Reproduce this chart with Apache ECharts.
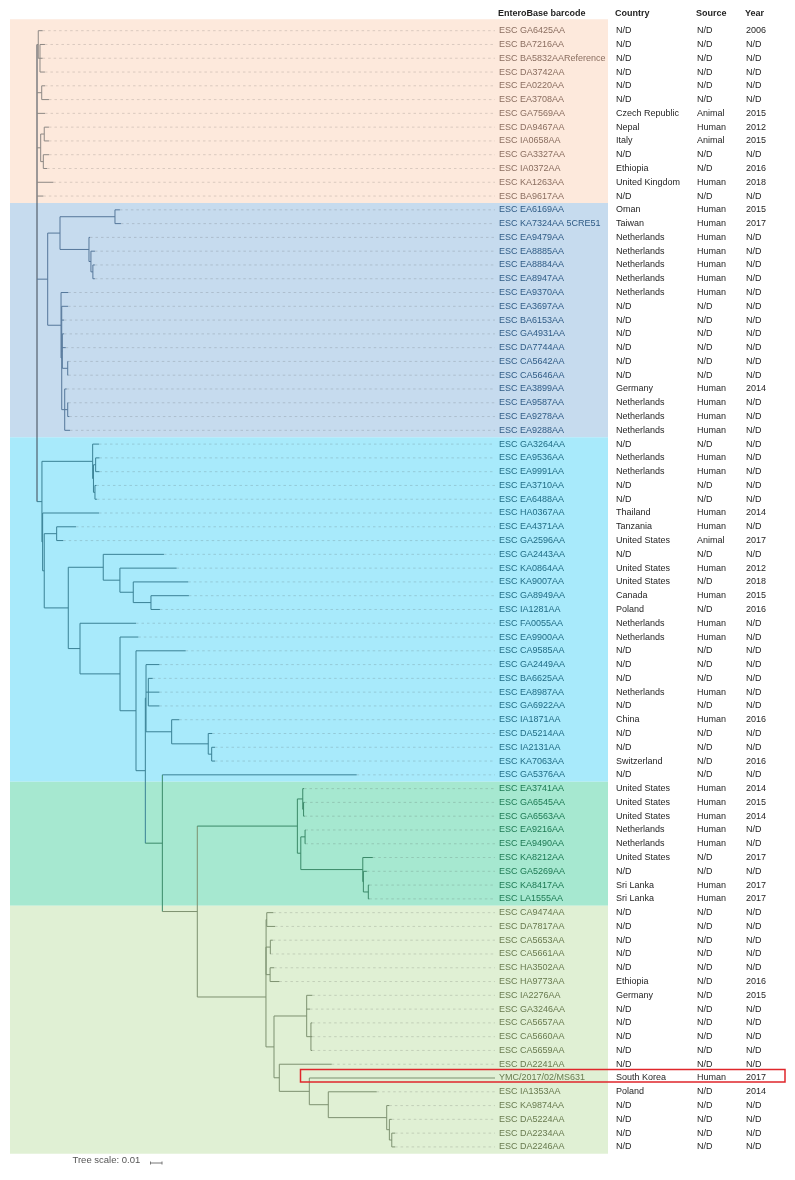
<!DOCTYPE html>
<html>
<head>
<meta charset="utf-8">
<script src="https://cdn.jsdelivr.net/npm/echarts@6/dist/echarts.min.js"></script>
<style>
html,body{margin:0;padding:0;background:#fff;}
#c{width:795px;height:1180px;}
</style>
</head>
<body>
<div id="c"></div>
<script>
// ---------------- DATA ----------------
const barcodes = [
 "ESC GA6425AA","ESC BA7216AA","ESC BA5832AAReference","ESC DA3742AA","ESC EA0220AA","ESC EA3708AA",
 "ESC GA7569AA","ESC DA9467AA","ESC IA0658AA","ESC GA3327AA","ESC IA0372AA","ESC KA1263AA","ESC BA9617AA",
 "ESC EA6169AA","ESC KA7324AA 5CRE51","ESC EA9479AA","ESC EA8885AA","ESC EA8884AA","ESC EA8947AA",
 "ESC EA9370AA","ESC EA3697AA","ESC BA6153AA","ESC GA4931AA","ESC DA7744AA","ESC CA5642AA","ESC CA5646AA",
 "ESC EA3899AA","ESC EA9587AA","ESC EA9278AA","ESC EA9288AA",
 "ESC GA3264AA","ESC EA9536AA","ESC EA9991AA","ESC EA3710AA","ESC EA6488AA","ESC HA0367AA","ESC EA4371AA",
 "ESC GA2596AA","ESC GA2443AA","ESC KA0864AA","ESC KA9007AA","ESC GA8949AA","ESC IA1281AA","ESC FA0055AA",
 "ESC EA9900AA","ESC CA9585AA","ESC GA2449AA","ESC BA6625AA","ESC EA8987AA","ESC GA6922AA","ESC IA1871AA",
 "ESC DA5214AA","ESC IA2131AA","ESC KA7063AA","ESC GA5376AA",
 "ESC EA3741AA","ESC GA6545AA","ESC GA6563AA","ESC EA9216AA","ESC EA9490AA","ESC KA8212AA","ESC GA5269AA",
 "ESC KA8417AA","ESC LA1555AA",
 "ESC CA9474AA","ESC DA7817AA","ESC CA5653AA","ESC CA5661AA","ESC HA3502AA","ESC HA9773AA","ESC IA2276AA",
 "ESC GA3246AA","ESC CA5657AA","ESC CA5660AA","ESC CA5659AA","ESC DA2241AA","YMC/2017/02/MS631",
 "ESC IA1353AA","ESC KA9874AA","ESC DA5224AA","ESC DA2234AA","ESC DA2246AA"
];
const countries = [
 "N/D","N/D","N/D","N/D","N/D","N/D","Czech Republic","Nepal","Italy","N/D","Ethiopia","United Kingdom","N/D",
 "Oman","Taiwan","Netherlands","Netherlands","Netherlands","Netherlands","Netherlands","N/D","N/D","N/D","N/D",
 "N/D","N/D","Germany","Netherlands","Netherlands","Netherlands",
 "N/D","Netherlands","Netherlands","N/D","N/D","Thailand","Tanzania","United States","N/D","United States",
 "United States","Canada","Poland","Netherlands","Netherlands","N/D","N/D","N/D","Netherlands","N/D","China",
 "N/D","N/D","Switzerland","N/D",
 "United States","United States","United States","Netherlands","Netherlands","United States","N/D","Sri Lanka","Sri Lanka",
 "N/D","N/D","N/D","N/D","N/D","Ethiopia","Germany","N/D","N/D","N/D","N/D","N/D","South Korea","Poland",
 "N/D","N/D","N/D","N/D"
];
const sources = [
 "N/D","N/D","N/D","N/D","N/D","N/D","Animal","Human","Animal","N/D","N/D","Human","N/D",
 "Human","Human","Human","Human","Human","Human","Human","N/D","N/D","N/D","N/D","N/D","N/D","Human","Human","Human","Human",
 "N/D","Human","Human","N/D","N/D","Human","Human","Animal","N/D","Human","N/D","Human","N/D","Human","Human",
 "N/D","N/D","N/D","Human","N/D","Human","N/D","N/D","N/D","N/D",
 "Human","Human","Human","Human","Human","N/D","N/D","Human","Human",
 "N/D","N/D","N/D","N/D","N/D","N/D","N/D","N/D","N/D","N/D","N/D","N/D","Human","N/D","N/D","N/D","N/D","N/D"
];
const years = [
 "2006","N/D","N/D","N/D","N/D","N/D","2015","2012","2015","N/D","2016","2018","N/D",
 "2015","2017","N/D","N/D","N/D","N/D","N/D","N/D","N/D","N/D","N/D","N/D","N/D","2014","N/D","N/D","N/D",
 "N/D","N/D","N/D","N/D","N/D","2014","N/D","2017","N/D","2012","2018","2015","2016","N/D","N/D","N/D","N/D",
 "N/D","N/D","N/D","2016","N/D","N/D","2016","N/D",
 "2014","2015","2014","N/D","N/D","2017","N/D","2017","2017",
 "N/D","N/D","N/D","N/D","N/D","2016","2015","N/D","N/D","N/D","N/D","N/D","2017","2014","N/D","N/D","N/D","N/D"
];
const headers = ["EnteroBase barcode","Country","Source","Year"];
const highlightRow = 76;
const scaleValue = 0.01;

// clade background bands (first / last row)
const cladeStart = [0, 13, 30, 55, 64];
const cladeEnd   = [12, 29, 54, 63, 81];

// tree (Newick, leaf names = row index, branch lengths in substitutions/site)
const treeOrange = "(0:0.0038,(1:0.0043,2:0.0023,3:0.0043):0.0015):0.0011,(4:0.0029,5:0.0063):0.0041,6:0.0070," +
 "((7:0.0041,8:0.0041):0.0031,(9:0.0050,10:0.0032):0.0023):0.0032,11:0.0142,12:0.0055";
const treeBlue = "(((13:0.0043,14:0.0052):0.0478,(15:0.0009,(16:0.0035,(17:0.0017,18:0.0017):0.0017):0.0017):0.0252):0.0107," +
 "(19:0.0063,(20:0.0055,21:0.0020,(22:0.0015,23:0.0030,(24:0.0005,25:0.0005):0.0047):0.0005," +
 "(26:0.0017,(27:0.0005,28:0.0014):0.0026,29:0.0046):0.0026):0.0006):0.0116):0.0093";
const treeGreen = "((55:0.0011,(56:0.0009,57:0.0009):0.0007):0.0047,((58:0.0004,59:0.0004):0.0037," +
 "(60:0.0087,(61:0.0030,(62:0.0009,63:0.0009):0.0043):0.0005):0.0539):0.0030):0.0870";
const treeLightGreen = "(((64:0.0057,65:0.0072):0.0006,(66:0.0021,67:0.0003):0.0037,(68:0.0035,69:0.0081):0.0035):0.0001," +
 "((70:0.0049,71:0.0029,(72:0.0011,73:0.0011,74:0.0011):0.0037):0.0284," +
 "(75:0.0456,(76:0.0032,(77:0.0421,(78:0.0023,(79:0.0021,(80:0.0029,81:0.0029):0.0021):0.0023):0.0508):0.0165):0.0261):0.0046):0.0070):0.0597";
const treeCyan = "((30:0.0055,((31:0.0033,32:0.0033):0.0019,(33:0.0013,34:0.0017):0.0013):0.0007):0.0441," +
 "(35:0.0490,((36:0.0168,37:0.0057):0.0108," +
 "((38:0.0528,(39:0.0493,(40:0.0478,(41:0.0330,42:0.0078):0.0154):0.0116):0.0145):0.0304," +
 "(43:0.0487,(44:0.0159,(45:0.0432," +
 "((46:0.0116,(47:0.0038,48:0.0096,49:0.0096):0.0020,(50:0.0066,(51:0.0035,(52:0.0029,53:0.0029):0.0030):0.0318):0.0223):0.0006," +
 "(54:0.1690,(" + treeGreen + "," + treeLightGreen + "):0.0304):0.0148):0.0081" +
 "):0.0139):0.0348):0.0102):0.0209):0.0014):0.0006):0.0043";
const treeNewick = "(" + treeOrange + "," + treeBlue + "," + treeCyan + ");";

// ---------------- STYLE ----------------
const bandFill = ['#fde9dc', '#c6dbee', '#a8eafb', '#a6e8d0', '#e0f0d4'];
const bandInk  = ['#8a6e60', '#2f5b85', '#216d86', '#1d7953', '#687a4f'];
const bandLine = ['#8d8884', '#55779a', '#3a8195', '#3a8968', '#7d9170'];
const FONT = '"Liberation Sans", Arial, sans-serif';

// ---------------- TREE LAYOUT ----------------
function parseNewick(str) {
  const s = str.replace(/\s+/g, '');
  let i = 0;
  function node() {
    const n = { children: [] };
    if (s[i] === '(') {
      i++;
      n.children.push(node());
      while (s[i] === ',') { i++; n.children.push(node()); }
      i++;
    }
    let name = '';
    while (i < s.length && ',():;'.indexOf(s[i]) < 0) name += s[i++];
    n.name = name;
    n.len = 0;
    if (s[i] === ':') {
      i++;
      let num = '';
      while (i < s.length && ',();'.indexOf(s[i]) < 0) num += s[i++];
      n.len = parseFloat(num);
    }
    return n;
  }
  return node();
}
const root = parseNewick(treeNewick);
function layout(n, depth) {
  n.x = depth + n.len;
  if (n.children.length) {
    n.children.forEach(c => layout(c, n.x));
    n.y = (n.children[0].y + n.children[n.children.length - 1].y) / 2;
  } else {
    n.y = +n.name;
  }
}
layout(root, 0);
function bandOf(y) {
  for (let k = 0; k < cladeStart.length; k++) if (y <= cladeEnd[k] + 0.5) return k;
  return cladeStart.length - 1;
}
const segs = [];   // [x1, y1, x2, y2, colorIndex]
const leaves = []; // [x, row]
function collect(n, parent) {
  if (parent) segs.push([parent.x, n.y, n.x, n.y, bandOf(n.y)]);
  if (n.children.length) {
    const y0 = n.children[0].y, y1 = n.children[n.children.length - 1].y;
    segs.push([n.x, y0, n.x, y1, parent ? bandOf((y0 + y1) / 2) : -1]);
    n.children.forEach(c => collect(c, n));
  } else {
    leaves.push([n.x, n.y]);
  }
}
collect(root, null);

// ---------------- LAYOUT CONSTANTS ----------------
const bandLeft = 10, bandRight = 608, connEnd = 495;
const colX = [499, 616, 697, 746];
const headerY = 13.5;

const chart = echarts.init(document.getElementById('c'), null, { renderer: 'canvas' });

const option = {
  animation: false,
  grid: { left: 37, top: 23.8, width: 460, height: 1130 },
  xAxis: { type: 'value', min: 0, max: 0.4, show: false },
  yAxis: { type: 'value', min: -0.5, max: 81.5, inverse: true, show: false },
  graphic: [
    ...headers.map((h, k) => ({
      type: 'text', x: colX[k] - (k === 0 ? 1 : 1), y: headerY, silent: true,
      style: { text: h, fill: '#1f1f1f', font: 'bold 9px ' + FONT, verticalAlign: 'middle', align: 'left' }
    })),
    { type: 'text', x: 72.5, y: 1160, silent: true,
      style: { text: 'Tree scale: ' + scaleValue, fill: '#555', font: '9.5px ' + FONT, verticalAlign: 'middle', align: 'left' } }
  ],
  series: [
    { // clade bands
      type: 'custom', coordinateSystem: 'cartesian2d', clip: false, silent: true, z: 1,
      data: cladeStart.map((s, k) => [s, cladeEnd[k], k]),
      encode: { x: -1, y: [0, 1] },
      renderItem: (p, api) => {
        const k = api.value(2);
        let y0 = api.coord([0, api.value(0) - 0.5])[1];
        const y1 = api.coord([0, api.value(1) + 0.5])[1];
        if (k === 0) y0 -= 4.5;
        return { type: 'rect', shape: { x: bandLeft, y: y0, width: bandRight - bandLeft, height: y1 - y0 },
                 style: { fill: bandFill[k] } };
      }
    },
    { // dotted connectors tip -> label
      type: 'custom', coordinateSystem: 'cartesian2d', clip: false, silent: true, z: 2,
      data: leaves,
      encode: { x: 0, y: 1 },
      renderItem: (p, api) => {
        const row = api.value(1);
        const a = api.coord([api.value(0), row]);
        const hl = row === highlightRow;
        return { type: 'line', shape: { x1: a[0], y1: a[1], x2: connEnd, y2: a[1] },
                 style: hl ? { stroke: bandLine[bandOf(row)], lineWidth: 1 }
                           : { stroke: 'rgba(60,60,60,0.18)', lineWidth: 1, lineDash: [2.5, 3] } };
      }
    },
    { // tree branches
      type: 'custom', coordinateSystem: 'cartesian2d', clip: false, silent: true, z: 3,
      data: segs,
      encode: { x: [0, 2], y: [1, 3] },
      renderItem: (p, api) => {
        const a = api.coord([api.value(0), api.value(1)]);
        const b = api.coord([api.value(2), api.value(3)]);
        const k = api.value(4);
        return { type: 'line', shape: { x1: a[0], y1: a[1], x2: b[0], y2: b[1] },
                 style: { stroke: k < 0 ? '#3d4752' : bandLine[k], lineWidth: 1 } };
      }
    },
    { // metadata table
      type: 'custom', coordinateSystem: 'cartesian2d', clip: false, silent: true, z: 4,
      data: barcodes.map((b, i) => [0, i]),
      encode: { x: 0, y: 1 },
      renderItem: (p, api) => {
        const i = api.value(1);
        const y = api.coord([0, i])[1];
        const vals = [barcodes[i], countries[i], sources[i], years[i]];
        return { type: 'group', children: vals.map((v, k) => ({
          type: 'text', x: colX[k], y: y,
          style: { text: v, fill: k === 0 ? bandInk[bandOf(i)] : '#1f1f1f', font: '9px ' + FONT,
                   align: 'left', verticalAlign: 'middle' }
        })) };
      }
    },
    { // highlight box
      type: 'custom', coordinateSystem: 'cartesian2d', clip: false, silent: true, z: 5,
      data: [[0, highlightRow]],
      encode: { x: 0, y: 1 },
      renderItem: (p, api) => {
        const y = api.coord([0, api.value(1)])[1];
        return { type: 'rect', shape: { x: 300.5, y: y - 8.5, width: 484.5, height: 12.5 },
                 style: { fill: 'none', stroke: '#e0262b', lineWidth: 1.5 } };
      }
    },
    { // tree scale bar
      type: 'custom', coordinateSystem: 'cartesian2d', clip: false, silent: true, z: 5,
      data: [[scaleValue, 0]],
      encode: { x: 0, y: 1 },
      renderItem: (p, api) => {
        const w = api.size([api.value(0), 0])[0];
        const x0 = 150.5, y = 1163;
        return { type: 'group', children: [
          { type: 'line', shape: { x1: x0, y1: y, x2: x0 + w, y2: y }, style: { stroke: '#777', lineWidth: 1 } },
          { type: 'line', shape: { x1: x0, y1: y - 1.5, x2: x0, y2: y + 1.5 }, style: { stroke: '#777', lineWidth: 1 } },
          { type: 'line', shape: { x1: x0 + w, y1: y - 1.5, x2: x0 + w, y2: y + 1.5 }, style: { stroke: '#777', lineWidth: 1 } }
        ] };
      }
    }
  ]
};
chart.setOption(option);
</script>
</body>
</html>
